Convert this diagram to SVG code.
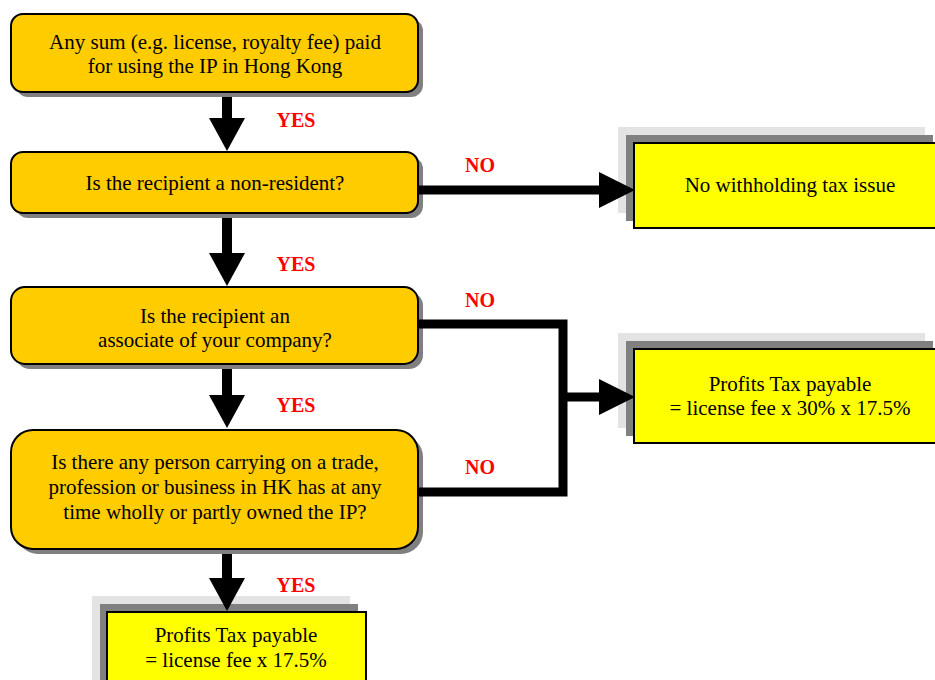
<svg xmlns="http://www.w3.org/2000/svg" width="935" height="680" viewBox="0 0 935 680">
<style>
.q{fill:#FFCC00;stroke:#000;stroke-width:2}
.qs{fill:#808080}
.r{fill:#FFFF00;stroke:#000;stroke-width:2}
.lg{fill:#E3E3E3}
.dg{fill:#808080}
.t{font-family:"Liberation Serif","Times New Roman",serif;font-size:21px;fill:#000;text-anchor:middle}
.y{font-family:"Liberation Serif","Times New Roman",serif;font-size:20px;font-weight:bold;fill:#FF0000;text-anchor:middle}
.c{fill:none;stroke:#000;stroke-width:9}
.h{fill:#000}
</style>
<g id="n1">
<rect class="qs" x="16" y="19" width="407" height="78" rx="12"/>
<rect class="q" x="11" y="14" width="407" height="78" rx="12"/>
<text class="t" x="215" y="49">Any sum (e.g. license, royalty fee) paid</text>
<text class="t" x="215" y="73">for using the IP in Hong Kong</text>
</g>
<g id="n2">
<rect class="qs" x="16" y="157" width="407" height="61" rx="12"/>
<rect class="q" x="11" y="152" width="407" height="61" rx="12"/>
<text class="t" x="215" y="190">Is the recipient a non-resident?</text>
</g>
<g id="n3">
<rect class="qs" x="16" y="292" width="407" height="77" rx="14"/>
<rect class="q" x="11" y="287" width="407" height="77" rx="14"/>
<text class="t" x="215" y="323">Is the recipient an</text>
<text class="t" x="215" y="347">associate of your company?</text>
</g>
<g id="n4">
<rect class="qs" x="16" y="435" width="407" height="119" rx="22"/>
<rect class="q" x="11" y="430" width="407" height="119" rx="22"/>
<text class="t" x="215" y="469">Is there any person carrying on a trade,</text>
<text class="t" x="215" y="494">profession or business in HK has at any</text>
<text class="t" x="215" y="519">time wholly or partly owned the IP?</text>
</g>
<g id="n5">
<rect class="lg" x="618" y="127" width="307" height="86"/>
<rect class="dg" x="626" y="135" width="307" height="86"/>
<rect class="r" x="634" y="143" width="307" height="85"/>
<text class="t" x="790" y="192">No withholding tax issue</text>
</g>
<g id="n6">
<rect class="lg" x="618" y="333" width="307" height="95"/>
<rect class="dg" x="626" y="341" width="307" height="95"/>
<rect class="r" x="634" y="349" width="307" height="94"/>
<text class="t" x="790" y="391">Profits Tax payable</text>
<text class="t" x="790" y="415">= license fee x 30% x 17.5%</text>
</g>
<g id="n7">
<rect class="lg" x="92" y="596" width="258" height="90"/>
<rect class="dg" x="100" y="604" width="258" height="90"/>
<rect class="r" x="107" y="612" width="259" height="90"/>
<text class="t" x="236" y="642">Profits Tax payable</text>
<text class="t" x="236" y="667">= license fee x 17.5%</text>
</g>
<g id="connectors">
<rect class="h" x="222" y="97" width="10" height="23"/>
<polygon class="h" points="209,118 245,118 227,151"/>
<rect class="h" x="222" y="218" width="10" height="37"/>
<polygon class="h" points="209,253 245,253 227,286"/>
<rect class="h" x="222" y="369" width="10" height="28"/>
<polygon class="h" points="209,395 245,395 227,428"/>
<rect class="h" x="222" y="554" width="10" height="26"/>
<polygon class="h" points="209,578 245,578 227,611"/>
<path class="c" d="M419,190 H602"/>
<polygon class="h" points="599,172 635,190 599,208"/>
<path class="c" d="M419,324 H563 V492 H419"/>
<path class="c" d="M563,397 H602"/>
<polygon class="h" points="599,379 635,397 599,415"/>
<text class="y" x="296" y="127">YES</text>
<text class="y" x="296" y="271">YES</text>
<text class="y" x="296" y="412">YES</text>
<text class="y" x="296" y="592">YES</text>
<text class="y" x="480" y="172">NO</text>
<text class="y" x="480" y="307">NO</text>
<text class="y" x="480" y="474">NO</text>
</g>
</svg>
